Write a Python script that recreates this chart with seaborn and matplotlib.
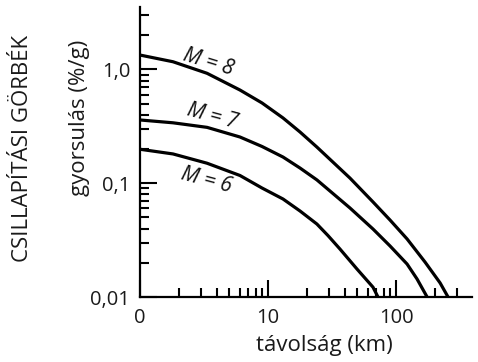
import numpy as np
import pandas as pd
import matplotlib
matplotlib.use("Agg")
import matplotlib.pyplot as plt
import seaborn as sns
from matplotlib.ticker import LogLocator, NullFormatter

# ---- data ----
dist_m8 = [1, 1.81, 3.34, 6.04, 8.98, 13.1, 17.8, 24.1, 43.7, 66.1, 89.8, 122,
           168.5, 221, 255]
acc_m8 = [1.34, 1.17, 0.926, 0.66, 0.508, 0.375, 0.282, 0.208, 0.111, 0.0685,
          0.0475, 0.0324, 0.0203, 0.0133, 0.01]

dist_m7 = [1, 1.81, 3.34, 6.04, 8.98, 13.1, 17.8, 24.1, 43.7, 66.1, 89.8, 122,
           146, 175]
acc_m7 = [0.36, 0.34, 0.31, 0.255, 0.2105, 0.170, 0.136, 0.107, 0.0606, 0.0396,
          0.0281, 0.0195, 0.0144, 0.01]

dist_m6 = [1, 1.81, 3.34, 6.04, 8.98, 13.1, 17.8, 24.1, 29.4, 36.5, 49.6, 66.1, 72.3]
acc_m6 = [0.199, 0.181, 0.150, 0.117, 0.0908, 0.0727, 0.057, 0.0438, 0.0347,
          0.0264, 0.0176, 0.0122, 0.01]

curve_labels = ["M = 8", "M = 7", "M = 6"]
label_x = [3.4, 3.65, 3.3]
label_y = [1.16, 0.39, 0.107]

xtick_vals = [1, 10, 100]
xtick_labels = ["0", "10", "100"]
ytick_vals = [0.01, 0.1, 1.0]
ytick_labels = ["0,01", "0,1", "1,0"]

df = pd.concat([
    pd.DataFrame({"dist": dist_m8, "acc": acc_m8, "M": "8"}),
    pd.DataFrame({"dist": dist_m7, "acc": acc_m7, "M": "7"}),
    pd.DataFrame({"dist": dist_m6, "acc": acc_m6, "M": "6"}),
], ignore_index=True)

sns.set_theme(style="ticks")
plt.rcParams["font.family"] = ["Open Sans", "DejaVu Sans"]

TXT = "#1a1a1a"
fig = plt.figure(figsize=(4.78, 3.62), dpi=100)
ax = fig.add_axes([140/478, 1-297/362, 332/478, 290/362])

sns.lineplot(data=df, x="dist", y="acc", units="M", estimator=None,
             color="black", linewidth=2.3, sort=False, ax=ax, legend=False)
for ln in ax.get_lines():
    ln.set_solid_joinstyle("round")
    ln.set_solid_capstyle("butt")

ax.set_xscale("log")
ax.set_yscale("log")
ax.set_xlim(1, 10**(332/128))
ax.set_ylim(0.01, 10**(62.5/113.75))

ax.set_xticks(xtick_vals, xtick_labels)
ax.set_yticks(ytick_vals, ytick_labels)
ax.xaxis.set_minor_locator(LogLocator(base=10, subs=np.arange(2, 10)))
ax.yaxis.set_minor_locator(LogLocator(base=10, subs=np.arange(2, 10)))
ax.xaxis.set_minor_formatter(NullFormatter())
ax.yaxis.set_minor_formatter(NullFormatter())

ax.tick_params(which="major", direction="in", length=12, width=1.5,
               labelsize=14.5, color="black", labelcolor=TXT)
ax.tick_params(axis="x", which="major", pad=8)
ax.tick_params(axis="y", which="major", pad=7)
ax.tick_params(which="minor", direction="in", length=6.5, width=1.5, color="black")

for s in ["top", "right"]:
    ax.spines[s].set_visible(False)
for s in ["left", "bottom"]:
    ax.spines[s].set_linewidth(1.6)
    ax.spines[s].set_color("black")

ax.set_xlabel("távolság (km)", fontsize=16, color=TXT)
ax.xaxis.set_label_coords(0.555, -0.13)
ax.set_ylabel("gyorsulás (%/g)", fontsize=16, color=TXT)
ax.yaxis.set_label_coords(-0.152, 0.617)

fig.text(23/478, 1-148/362, "CSILLAPÍTÁSI GÖRBÉK", rotation=90,
         ha="center", va="center", fontsize=16, color=TXT)

for t, x, y, r in zip(curve_labels, label_x, label_y, [-17, -15, -15]):
    ax.text(x, y, t, fontsize=15, style="italic", rotation=r,
            ha="center", va="center", color="#111111")

fig.savefig("out.png", dpi=100)
